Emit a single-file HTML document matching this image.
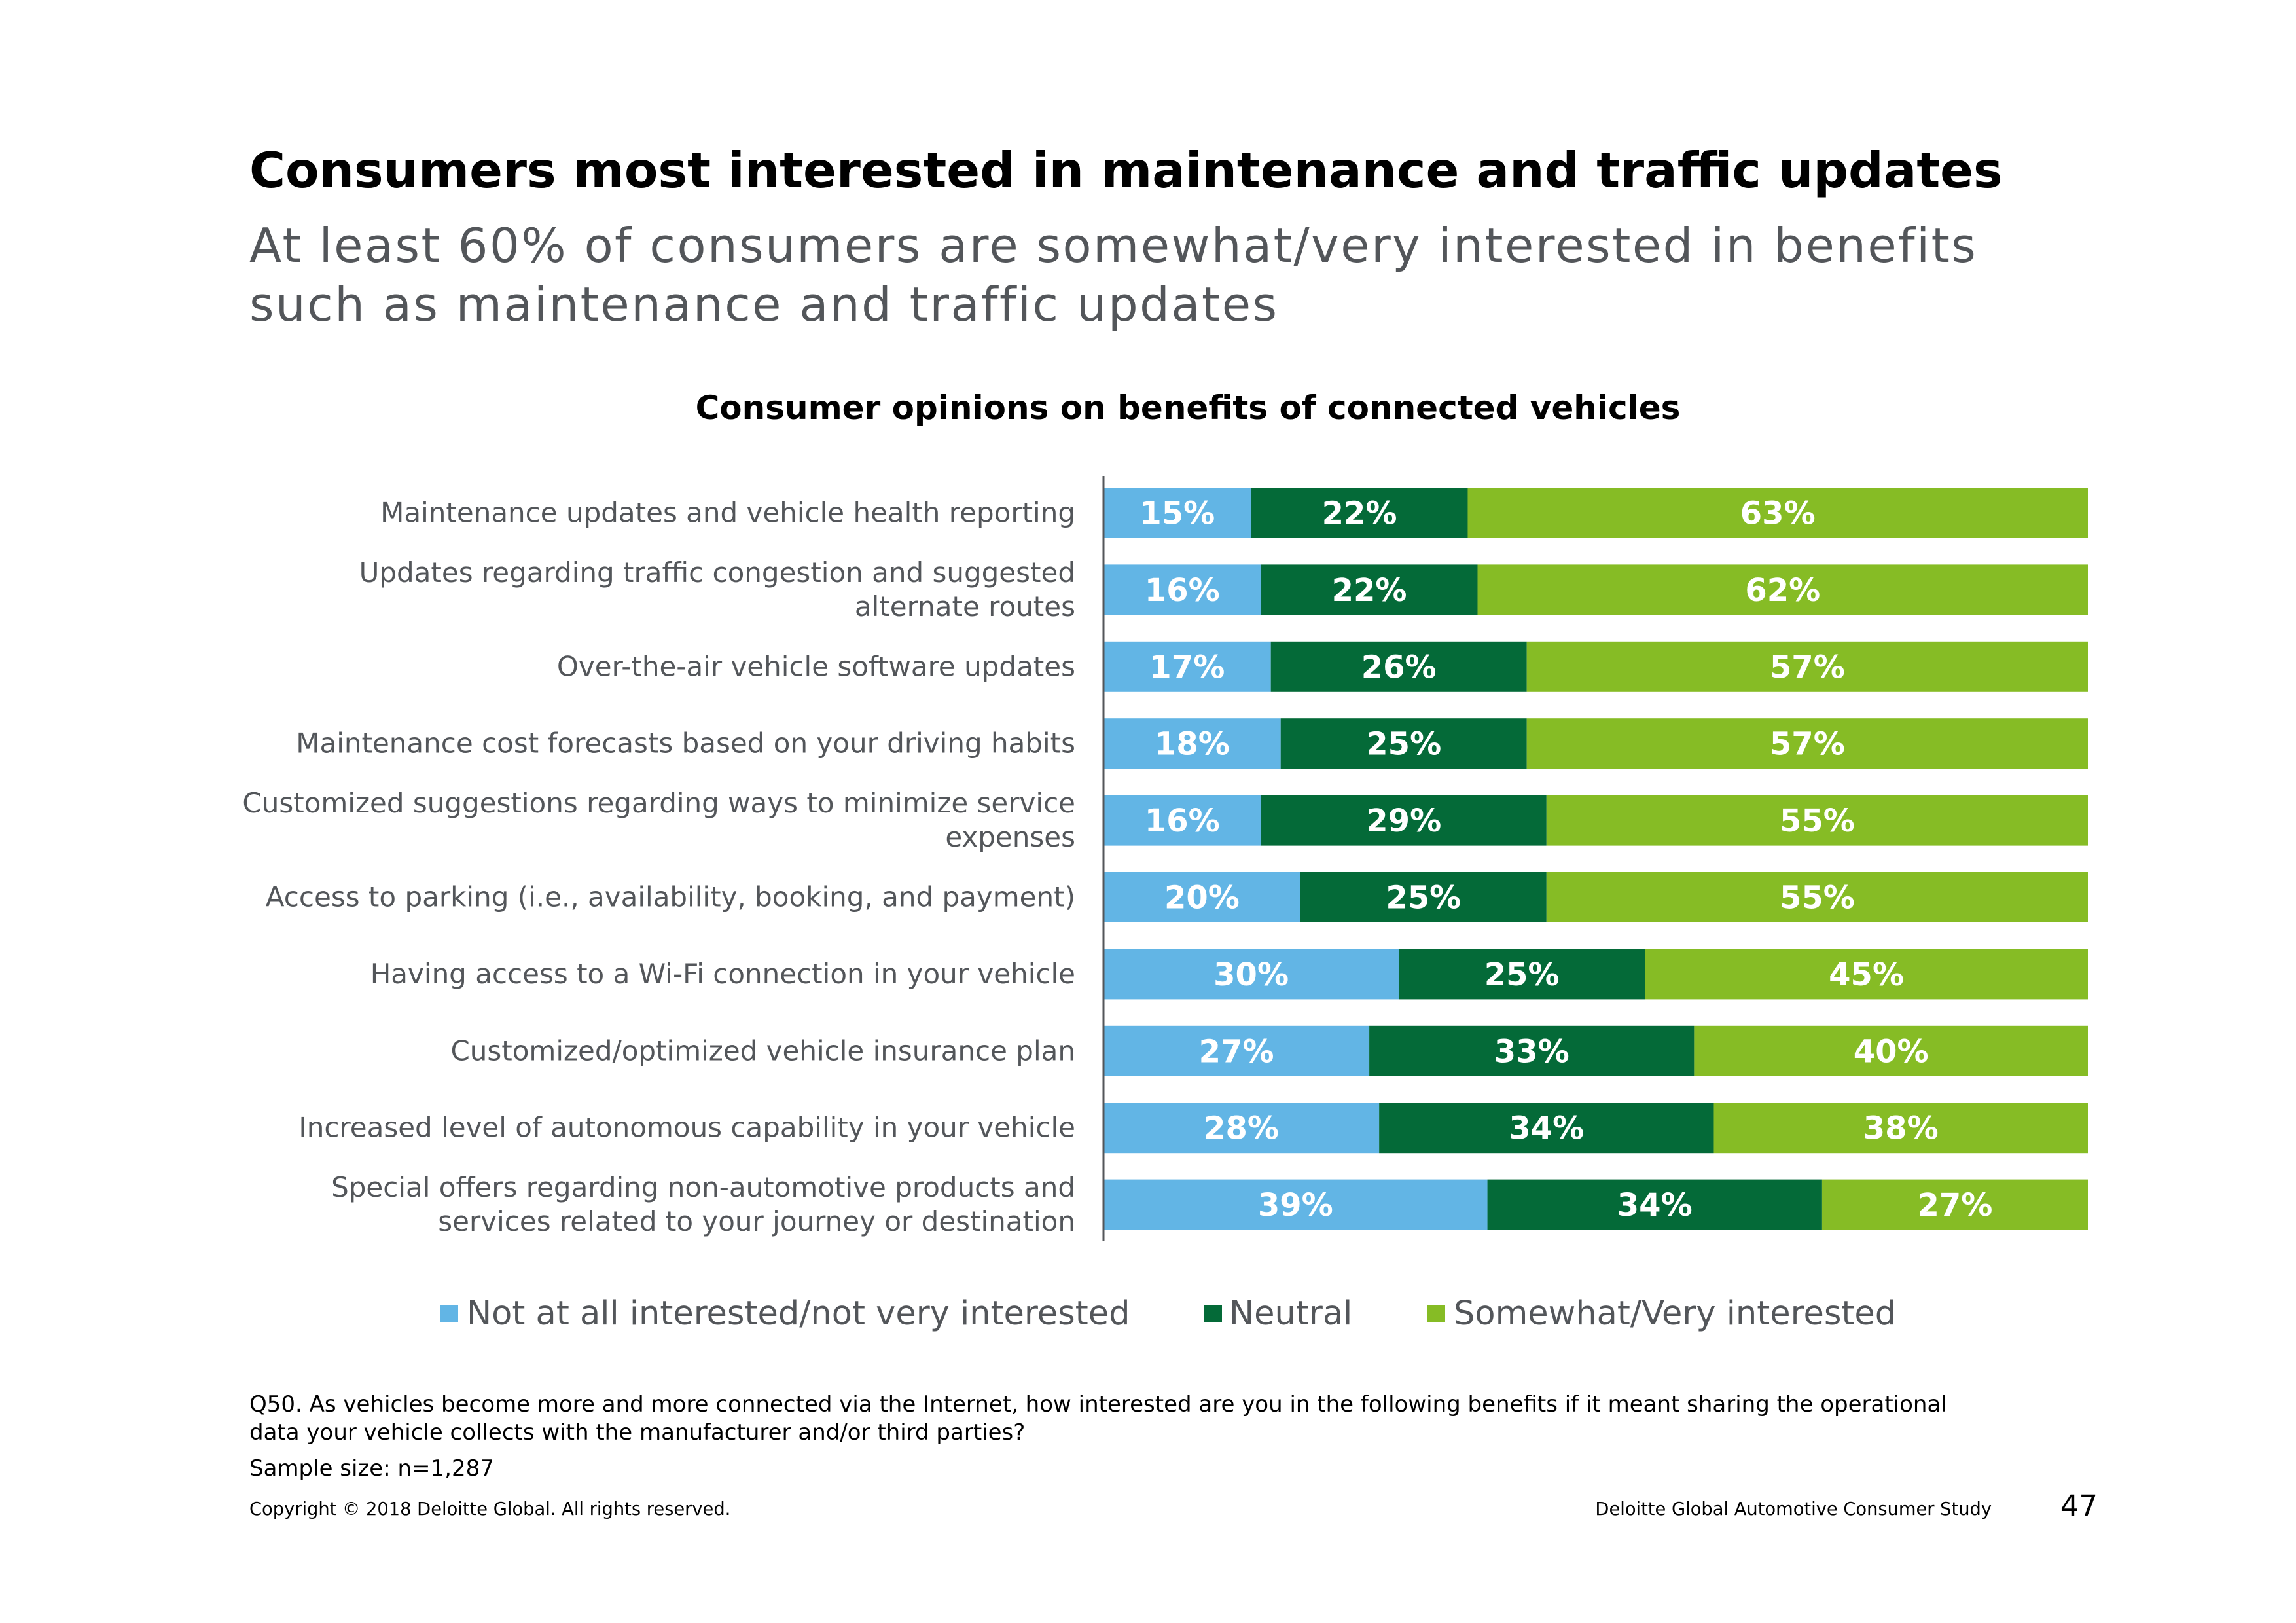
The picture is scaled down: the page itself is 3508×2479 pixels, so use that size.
<!DOCTYPE html>
<html><head><meta charset="utf-8"><style>
html,body{margin:0;padding:0;background:#fff;}
svg{display:block;font-family:"DejaVu Sans","Liberation Sans",sans-serif;}
</style></head><body>
<svg id="chart" width="3508" height="2479" viewBox="0 0 3508 2479">
<text x="381" y="286" font-size="75" font-weight="bold" fill="#000">Consumers most interested in maintenance and traffic updates</text>
<text x="381" y="400" font-size="72" letter-spacing="2.5" fill="#53565a">At least 60% of consumers are somewhat/very interested in benefits</text>
<text x="381" y="490" font-size="72" letter-spacing="2.5" fill="#53565a">such as maintenance and traffic updates</text>
<text x="1815" y="640" font-size="50" font-weight="bold" text-anchor="middle" fill="#000">Consumer opinions on benefits of connected vehicles</text>
<g id="bars"></g>
<line x1="1686" y1="727" x2="1686" y2="1896" stroke="#53565a" stroke-width="3"/>
<g>
<rect x="673" y="1993" width="27" height="27" fill="#62b5e5"/>
<text x="713" y="2023" font-size="51" fill="#53565a">Not at all interested/not very interested</text>
<rect x="1840" y="1993" width="27" height="27" fill="#046a38"/>
<text x="1878" y="2023" font-size="51" fill="#53565a">Neutral</text>
<rect x="2181" y="1993" width="27" height="27" fill="#86bc25"/>
<text x="2221" y="2023" font-size="51" fill="#53565a">Somewhat/Very interested</text>
</g>
<text x="381" y="2156" font-size="34" fill="#000">Q50. As vehicles become more and more connected via the Internet, how interested are you in the following benefits if it meant sharing the operational</text>
<text x="381" y="2199" font-size="34" fill="#000">data your vehicle collects with the manufacturer and/or third parties?</text>
<text x="381" y="2254" font-size="34" fill="#000">Sample size: n=1,287</text>
<text x="381" y="2314" font-size="27.3" fill="#000">Copyright © 2018 Deloitte Global. All rights reserved.</text>
<text x="3043" y="2314" font-size="27.3" fill="#000" text-anchor="end">Deloitte Global Automotive Consumer Study</text>
<text x="3205" y="2316" font-size="45" fill="#000" text-anchor="end">47</text>
</svg>
<script>
const categories = [
 ["Maintenance updates and vehicle health reporting"],
 ["Updates regarding traffic congestion and suggested","alternate routes"],
 ["Over-the-air vehicle software updates"],
 ["Maintenance cost forecasts based on your driving habits"],
 ["Customized suggestions regarding ways to minimize service","expenses"],
 ["Access to parking (i.e., availability, booking, and payment)"],
 ["Having access to a Wi-Fi connection in your vehicle"],
 ["Customized/optimized vehicle insurance plan "],
 ["Increased level of autonomous capability in your vehicle"],
 ["Special offers regarding non-automotive products and","services related to your journey or destination"]
];
const notInterested = [15,16,17,18,16,20,30,27,28,39];
const neutral = [22,22,26,25,29,25,25,33,34,34];
const interested = [63,62,57,57,55,55,45,40,38,27];
const seriesNames = ["not-interested","neutral","interested"];
const colors = ["#62b5e5","#046a38","#86bc25"];

const NS="http://www.w3.org/2000/svg";
const g=document.getElementById('bars');
const x0=1686, plotW=1504, top0=745, pitch=117.4, barH=77;
function xScale(cum, total){return x0 + cum/total*plotW;}
function yScale(i){return top0 + i*pitch;}
const series=[notInterested,neutral,interested];
categories.forEach((lines,i)=>{
  const total=notInterested[i]+neutral[i]+interested[i];
  let cum=0;
  const y=yScale(i);
  series.forEach((s,k)=>{
    const v=s[i];
    const xa=xScale(cum,total), xb=xScale(cum+v,total);
    const r=document.createElementNS(NS,'rect');
    r.setAttribute('x',xa);r.setAttribute('y',y);
    r.setAttribute('width',xb-xa);r.setAttribute('height',barH);
    r.setAttribute('fill',colors[k]);
    
    
    g.appendChild(r);
    const t=document.createElementNS(NS,'text');
    t.setAttribute('x',(xa+xb)/2);t.setAttribute('y',y+barH/2+17);
    t.setAttribute('text-anchor','middle');t.setAttribute('font-size','48');
    t.setAttribute('font-weight','bold');t.setAttribute('fill','#fff');
    t.textContent=v+'%';
    
    
    g.appendChild(t);
    cum+=v;
  });
  const cy=y+barH/2;
  lines.forEach((ln,j)=>{
    const t=document.createElementNS(NS,'text');
    t.setAttribute('x',1643);
    t.setAttribute('y',cy+14+(j-(lines.length-1)/2)*52);
    t.setAttribute('text-anchor','end');t.setAttribute('font-size','42');
    t.setAttribute('fill','#53565a');
    t.setAttribute('xml:space','preserve');
    t.textContent=ln;
    
    
    g.appendChild(t);
  });
});
</script>
</body></html>
